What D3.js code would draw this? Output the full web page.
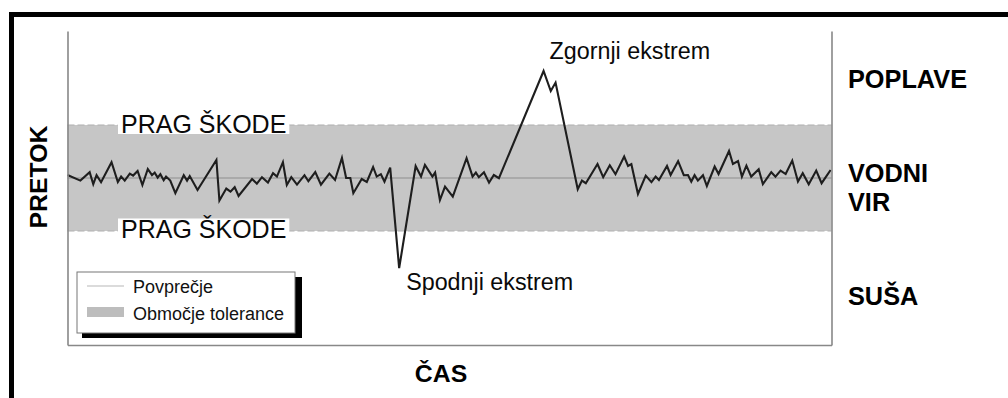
<!DOCTYPE html>
<html>
<head>
<meta charset="utf-8">
<script src="https://cdn.jsdelivr.net/npm/d3@7/dist/d3.min.js"></script>
<style>
  html, body { margin: 0; padding: 0; background: #fff; }
  svg { display: block; font-family: "Liberation Sans", Arial, sans-serif; }
</style>
</head>
<body>
<svg id="chart" width="1008" height="398"></svg>
<script>
// Time steps and river flow readings
const timeVals = [0, 4.3, 7.4, 8.6, 9.7, 11.2, 14.7, 16.8, 17.9, 19.1, 20.8, 21.9, 23.4, 25, 26.8, 28.2, 29.1, 30.1, 31, 32.1,
  32.9, 34.3, 36, 38.8, 39.9, 40.8, 43.4, 49.7, 50.7, 53, 54.4, 55.8, 57.1, 61.6, 63.2, 64.9, 66.9, 68.6, 69.9, 71.9,
  73.2, 74.7, 76.6, 79.1, 80.4, 82.7, 84.6, 87.4, 89.3, 91.6, 93, 94.4, 95.4, 98.2, 99.9, 102, 103.2, 104.6, 105.8, 107.7,
  110.7, 116.2, 118, 119.3, 121.8, 122.7, 124.3, 126, 128.6, 133.2, 135.2, 136.3, 137.3, 139, 140.7, 142.3, 144, 158.9, 161.3, 162.9,
  170.3, 171.7, 173, 176.9, 178.8, 181, 182.9, 185.8, 187.1, 188.2, 190.4, 193, 194.9, 196.3, 197.4, 200.1, 201.3, 203.8, 205.7, 207.1,
  208.2, 209.3, 210.4, 212.1, 213.4, 216, 217.3, 220.8, 222.1, 223.8, 225.1, 226.6, 228.2, 230.7, 232.1, 234.9, 236.3, 238, 239.7, 241.9,
  243.8, 245.4, 247.4, 249.9, 251.7, 254.7];
const flowVals = [85, 82.2, 86.4, 80.4, 84.9, 81.4, 91.4, 81.5, 84.2, 82.2, 85.7, 84.7, 87, 80, 88, 84.9, 86.2, 83.7, 85.4, 82.4,
  84.2, 82.2, 75.9, 84.9, 82.2, 84.5, 77.5, 92.5, 72.2, 78.2, 76.7, 78.9, 74.5, 83, 80.7, 83.9, 81.2, 85.9, 84.2, 91.4,
  80, 83.9, 80.2, 84.9, 81.9, 86.5, 80.2, 85.7, 82.5, 93.5, 83.5, 83.5, 75.9, 83, 81.5, 89, 84.2, 85.4, 81.7, 88.7,
  38.4, 89.5, 84.2, 90, 84.2, 86.2, 72.5, 79.2, 74.2, 93.4, 84.2, 86.2, 83.9, 86.4, 81.2, 85, 83.4, 137, 127, 131.2,
  77.9, 82.2, 80.9, 90.5, 83.9, 89.9, 85.4, 94.2, 89.5, 90.4, 75.5, 84.7, 81.4, 84.2, 82.5, 89.5, 85, 91.9, 84.9, 85,
  81.7, 84.9, 82.2, 84.9, 79.5, 89.2, 85.5, 97, 90.5, 92, 84.2, 89.7, 84.2, 87.9, 80.4, 86.4, 84.2, 87.2, 85.5, 92.2,
  81.7, 85.9, 80.4, 87.2, 80.9, 87.5];

// Long-term mean and the tolerance band around it
const meanFlow = 83.5;
const toleranceBand = [57, 110];

// Axis extents
const timeDomain = [0, 255];
const flowDomain = [0, 157];

// Text
const axisTitles = { y: "PRETOK", x: "ČAS" };
const zoneLabels = [
  { lines: ["POPLAVE"], baseline: 88 },
  { lines: ["VODNI", "VIR"], baseline: 182 },
  { lines: ["SUŠA"], baseline: 305 }
];
const thresholdLabel = "PRAG ŠKODE";
const extremeLabels = ["Zgornji ekstrem", "Spodnji ekstrem"];
const legendLabels = ["Povprečje", "Območje tolerance"];

const svg = d3.select("#chart");

// Outer frame: heavy rule along the top and left side
svg.append("path")
  .attr("d", "M11.5,398 V14.5 H1008")
  .attr("fill", "none")
  .attr("stroke", "#000")
  .attr("stroke-width", 5);

const x = d3.scaleLinear().domain(timeDomain).range([67.5, 831.5]);
const y = d3.scaleLinear().domain(flowDomain).range([345, 31]);

const data = timeVals.map((t, i) => ({ t, v: flowVals[i] }));

// Tolerance band
svg.append("rect")
  .attr("x", x(timeDomain[0]))
  .attr("y", y(toleranceBand[1]))
  .attr("width", x(timeDomain[1]) - x(timeDomain[0]))
  .attr("height", y(toleranceBand[0]) - y(toleranceBand[1]))
  .attr("fill", "#c6c6c6");

// Band edges
svg.selectAll("line.bandEdge")
  .data(toleranceBand)
  .join("line")
  .attr("class", "bandEdge")
  .attr("x1", x(timeDomain[0])).attr("x2", x(timeDomain[1]))
  .attr("y1", d => y(d)).attr("y2", d => y(d))
  .attr("stroke", "#b0b0b0")
  .attr("stroke-width", 1.2)
  .attr("stroke-dasharray", "7,3");

// Mean line
svg.append("line")
  .attr("x1", x(timeDomain[0])).attr("x2", x(timeDomain[1]))
  .attr("y1", y(meanFlow)).attr("y2", y(meanFlow))
  .attr("stroke", "#a0a0a0")
  .attr("stroke-width", 1.5);

// Threshold labels sitting on the band edges, on a white patch
const thrPos = [
  { flow: toleranceBand[1], baseline: 133 },
  { flow: toleranceBand[0], baseline: 237.5 }
];
thrPos.forEach((p, i) => {
  const g = svg.append("g");
  const bg = g.append("rect").attr("fill", "#fff");
  const txt = g.append("text")
    .attr("x", 121)
    .attr("y", p.baseline)
    .attr("font-size", 25)
    .attr("fill", "#0a0a0a")
    .text(thresholdLabel);
  const bb = txt.node().getBBox();
  if (i === 0) {
    bg.attr("x", bb.x - 3).attr("width", bb.width + 6)
      .attr("y", y(p.flow) - 1).attr("height", p.baseline + 1 - y(p.flow) + 1);
  } else {
    bg.attr("x", bb.x - 3).attr("width", bb.width + 6)
      .attr("y", bb.y + 4).attr("height", y(p.flow) - bb.y - 3);
  }
});

// Flow series
svg.append("path")
  .datum(data)
  .attr("fill", "none")
  .attr("stroke", "#1e1e1e")
  .attr("stroke-width", 2.1)
  .attr("stroke-linejoin", "miter")
  .attr("d", d3.line().x(d => x(d.t)).y(d => y(d.v)));

// Plot frame (left, right, bottom) drawn from the axes' domain lines
const frameColor = "#888";
const axL = svg.append("g").attr("transform", `translate(${x(timeDomain[0])},0)`)
  .call(d3.axisLeft(y).ticks(0).tickSizeOuter(0));
const axR = svg.append("g").attr("transform", `translate(${x(timeDomain[1])},0)`)
  .call(d3.axisRight(y).ticks(0).tickSizeOuter(0));
const axB = svg.append("g").attr("transform", `translate(0,${y(flowDomain[0])})`)
  .call(d3.axisBottom(x).ticks(0).tickSizeOuter(0));
[axL, axR, axB].forEach(a => a.select(".domain").attr("stroke", frameColor).attr("stroke-width", 1.6));

// Extreme annotations
const maxPt = data.reduce((a, b) => (b.v > a.v ? b : a));
const minPt = data.reduce((a, b) => (b.v < a.v ? b : a));
svg.append("text")
  .attr("x", x(maxPt.t) + 6).attr("y", 59)
  .attr("font-size", 23.3).attr("fill", "#0a0a0a")
  .text(extremeLabels[0]);
svg.append("text")
  .attr("x", x(minPt.t) + 7).attr("y", 289.5)
  .attr("font-size", 23.3).attr("fill", "#0a0a0a")
  .text(extremeLabels[1]);

// Axis titles
svg.append("text")
  .attr("transform", "translate(47,177) rotate(-90)")
  .attr("text-anchor", "middle")
  .attr("font-size", 24.8).attr("font-weight", "bold")
  .text(axisTitles.y);
svg.append("text")
  .attr("x", 441).attr("y", 381.5)
  .attr("text-anchor", "middle")
  .attr("font-size", 24.8).attr("font-weight", "bold")
  .text(axisTitles.x);

// Zone labels on the right
zoneLabels.forEach(z => {
  const t = svg.append("text")
    .attr("x", 848)
    .attr("font-size", 25.3).attr("font-weight", "bold");
  z.lines.forEach((ln, k) => {
    t.append("tspan").attr("x", 848).attr("y", z.baseline + k * 29).text(ln);
  });
});

// Legend with drop shadow
const lg = svg.append("g");
lg.append("rect").attr("x", 82).attr("y", 277).attr("width", 220).attr("height", 61).attr("fill", "#000");
lg.append("rect").attr("x", 77).attr("y", 272).attr("width", 218).attr("height", 61)
  .attr("fill", "#fff").attr("stroke", "#777").attr("stroke-width", 1);
lg.append("line").attr("x1", 87).attr("x2", 124).attr("y1", 286).attr("y2", 286)
  .attr("stroke", "#cfcfcf").attr("stroke-width", 1.5);
lg.append("rect").attr("x", 87).attr("y", 307).attr("width", 37).attr("height", 10).attr("fill", "#bdbdbd");
legendLabels.forEach((l, i) => {
  lg.append("text").attr("x", 133).attr("y", 293 + i * 27)
    .attr("font-size", 18).attr("fill", "#111").text(l);
});
</script>
</body>
</html>
